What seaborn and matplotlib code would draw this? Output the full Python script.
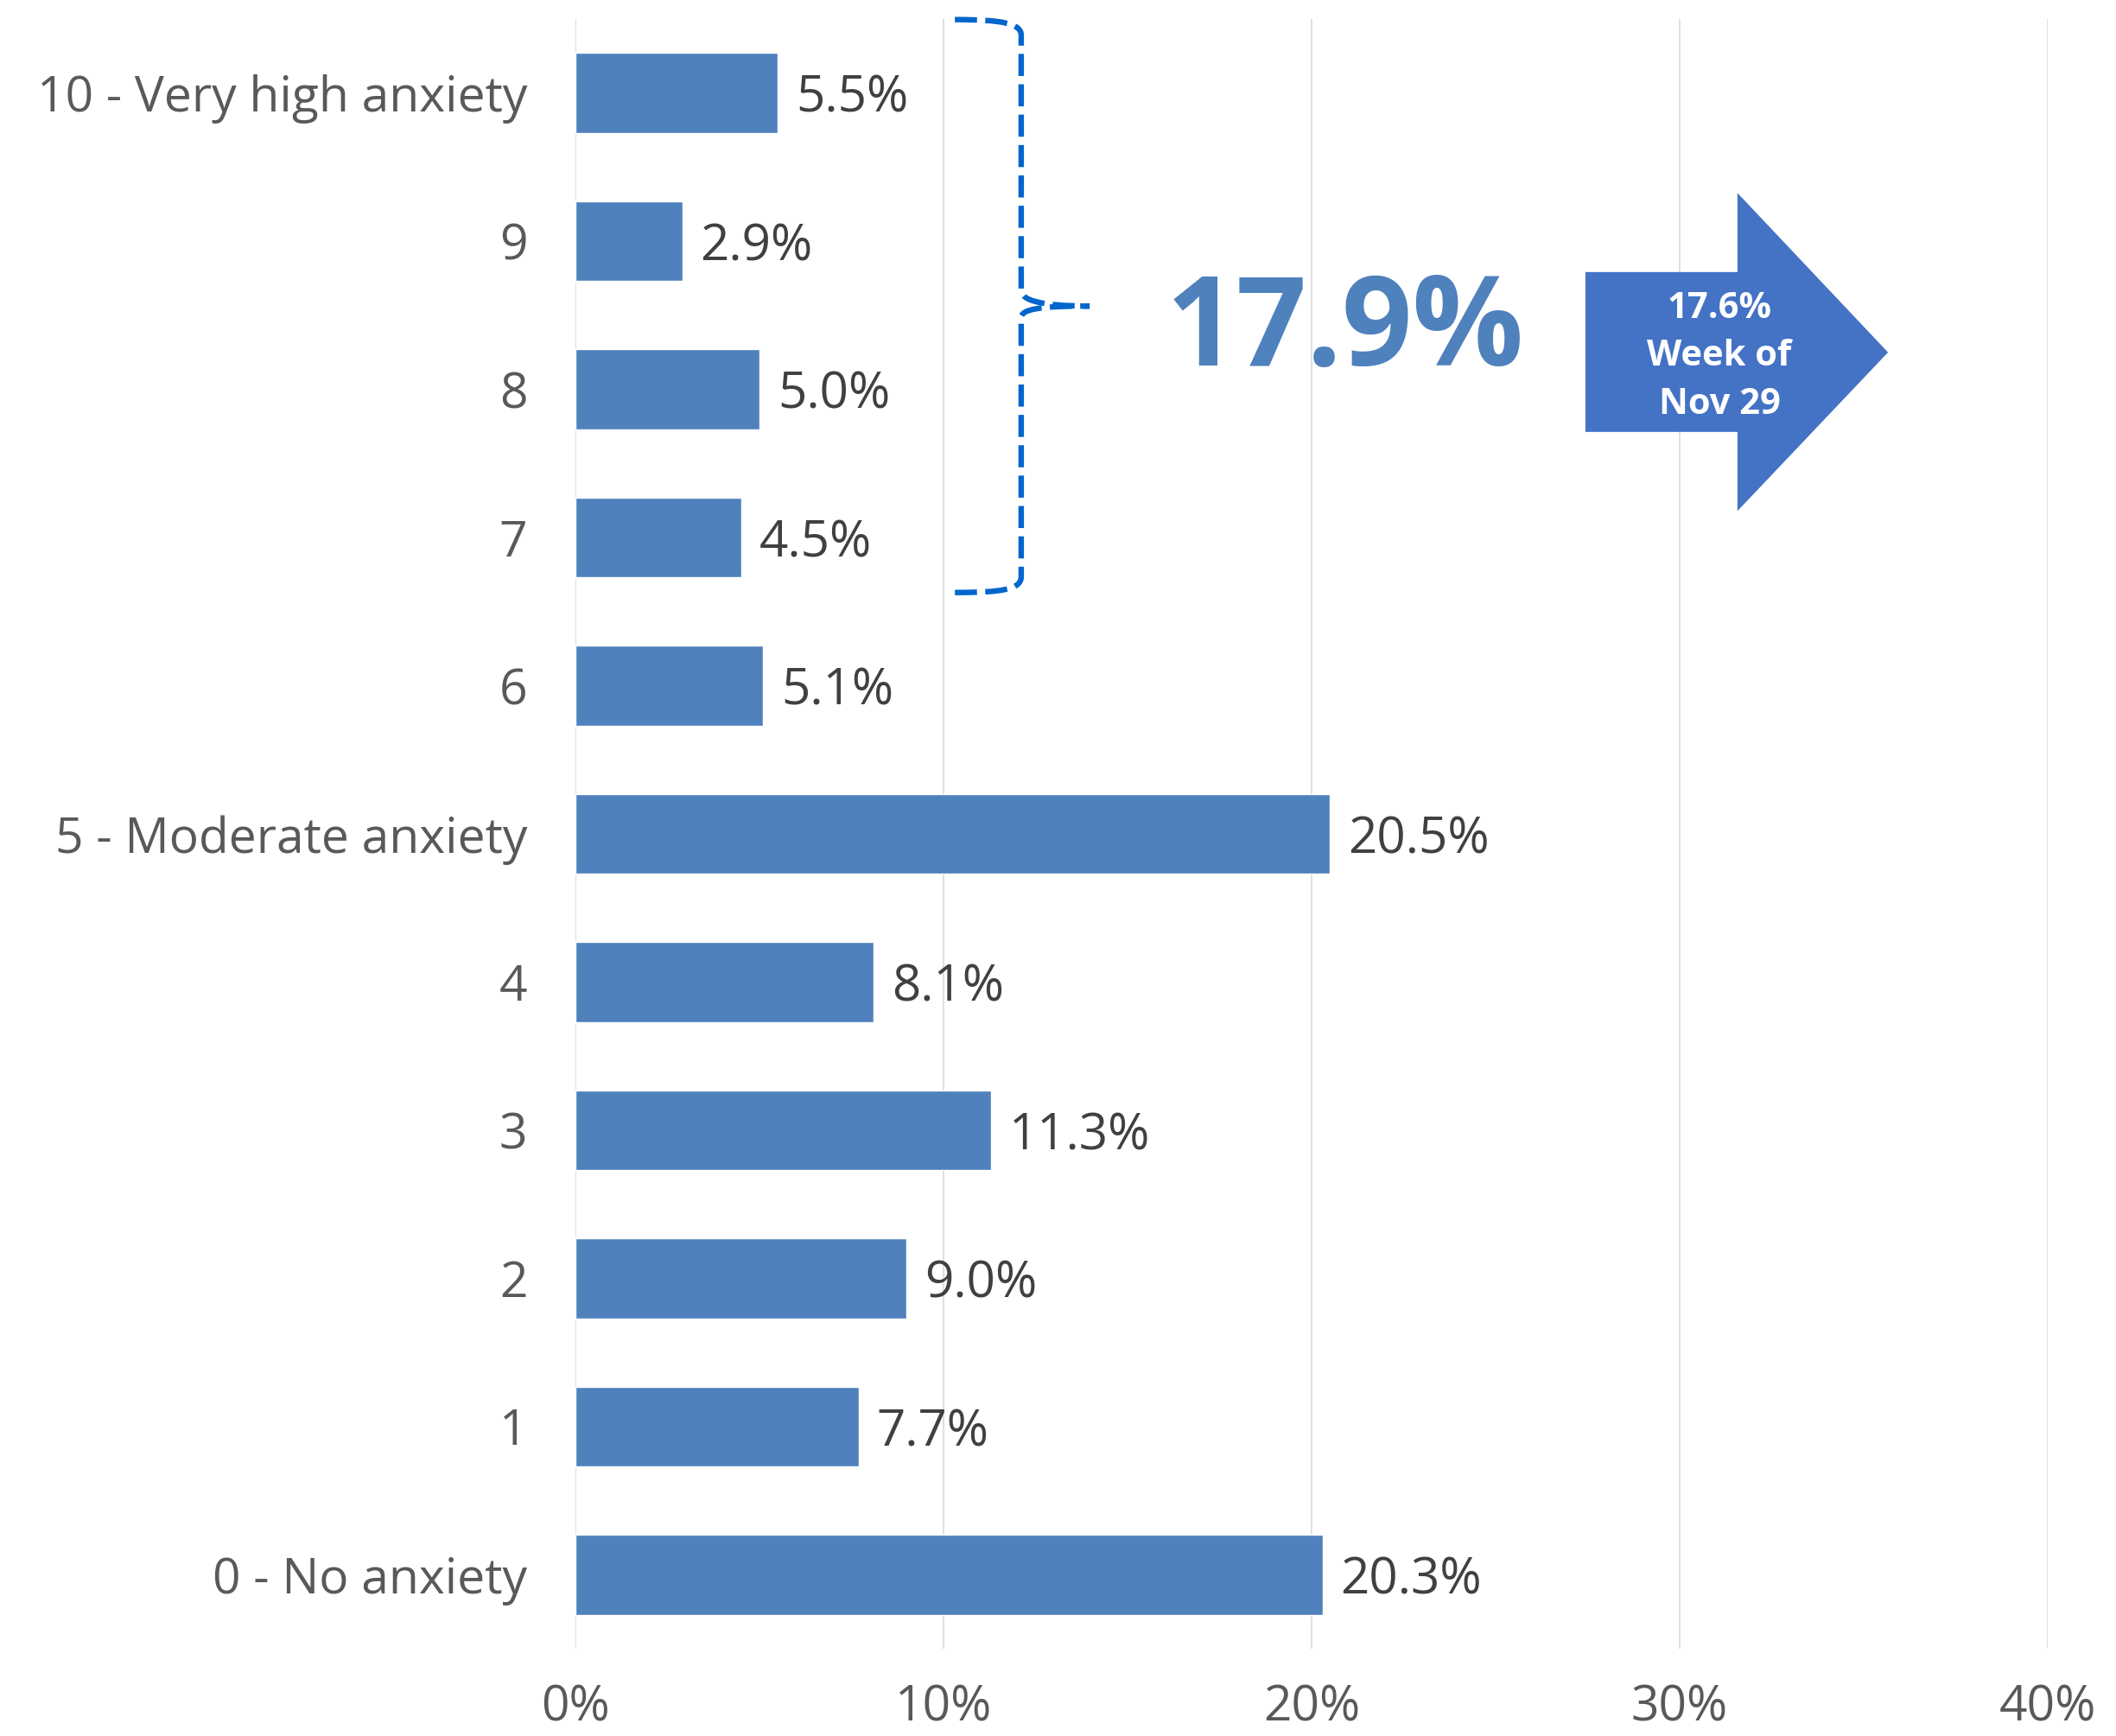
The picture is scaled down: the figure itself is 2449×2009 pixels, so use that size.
import matplotlib
matplotlib.use("Agg")
import matplotlib.pyplot as plt
from matplotlib.path import Path
from matplotlib.patches import PathPatch, Polygon
import seaborn as sns
import pandas as pd

# Anxiety rating distribution (share of respondents, %)
categories = ["10 - Very high anxiety", "9", "8", "7", "6", "5 - Moderate anxiety",
              "4", "3", "2", "1", "0 - No anxiety"]
shares = [5.5, 2.9, 5.0, 4.5, 5.1, 20.5, 8.1, 11.3, 9.0, 7.7, 20.3]
x_ticks = [0, 10, 20, 30, 40]
x_tick_labels = ["0%", "10%", "20%", "30%", "40%"]
high_group = ["10 - Very high anxiety", "9", "8", "7"]
previous_week_value = 17.6
previous_week_label = "Week of\nNov 29"

BAR = "#4F81BD"
ARROW = "#4472C4"
BRACE = "#0066CC"
TICK = "#595959"
VALUE = "#404040"
GRID = "#D9D9D9"

sns.set_theme(style="white")
plt.rcParams["font.family"] = ["Open Sans", "DejaVu Sans"]

df = pd.DataFrame({"rating": categories, "share": shares})

fig = plt.figure(figsize=(24.49, 20.09), dpi=100)
ax = fig.add_axes([666 / 2449, 1 - 1908 / 2009, (2370 - 666) / 2449, (1908 - 22) / 2009])

sns.barplot(data=df, y="rating", x="share", order=categories, color=BAR,
            width=0.54, saturation=1, orient="h", ax=ax)

ax.set_xlim(0, 40)
ax.set_ylim(len(categories) - 0.5, -0.5)
ax.set_xticks(x_ticks)
ax.set_xticklabels(x_tick_labels)
ax.set_xlabel("")
ax.set_ylabel("")
ax.tick_params(axis="x", length=0, pad=29, labelsize=41, labelcolor=TICK)
ax.tick_params(axis="y", length=0, pad=40, labelsize=41, labelcolor=TICK)
for lbl in ax.get_yticklabels():
    lbl.set_va("center_baseline")
ax.grid(axis="x", color=GRID, linewidth=1.2)
ax.set_axisbelow(True)
for s in ax.spines.values():
    s.set_visible(False)

labels = ax.bar_label(ax.containers[0], labels=[f"{v:.1f}%" for v in shares],
                      padding=15, fontsize=42, color=VALUE)
for t in labels:
    t.set_va("center_baseline")

# Curly bracket grouping the top four ratings
idx = [categories.index(c) for c in high_group]
y_top = min(idx) - 0.496
y_bot = max(idx) + 0.371
y_mid = (y_top + y_bot) / 2
x_left, x_v, x_tip = 10.31, 12.11, 13.97
upper = Path([(x_left, y_top), (11.6, y_top), (x_v, y_top + 0.026), (x_v, y_top + 0.106),
              (x_v, y_mid - 0.108),
              (x_v, y_mid - 0.04), (12.6, y_mid), (x_tip, y_mid)],
             [Path.MOVETO, Path.CURVE4, Path.CURVE4, Path.CURVE4, Path.LINETO,
              Path.CURVE4, Path.CURVE4, Path.CURVE4])
lower = Path([(x_left, y_bot), (11.6, y_bot), (x_v, y_bot - 0.021), (x_v, y_bot - 0.107),
              (x_v, y_mid + 0.08),
              (x_v, y_mid + 0.02), (12.6, y_mid), (x_tip, y_mid)],
             [Path.MOVETO, Path.CURVE4, Path.CURVE4, Path.CURVE4, Path.LINETO,
              Path.CURVE4, Path.CURVE4, Path.CURVE4])
for p in (upper, lower):
    ax.add_patch(PathPatch(p, fill=False, edgecolor=BRACE, linewidth=4.6,
                           linestyle=(0, (4, 1.5)), capstyle="butt", clip_on=False))

group_total = sum(shares[i] for i in idx)
ax.text(20.9, y_mid + 0.40, f"{group_total:.1f}%", ha="center", va="baseline",
        fontsize=103, fontweight="bold", color=BAR)

# Block arrow with previous week's figure
arrow_pts = [(27.44, 1.208), (31.57, 1.208), (31.57, 0.674), (35.66, 1.75),
             (31.57, 2.821), (31.57, 2.287), (27.44, 2.287)]
ax.add_patch(Polygon(arrow_pts, closed=True, facecolor=ARROW, edgecolor="none",
                     clip_on=False, zorder=3))
ax.text(31.08, 1.78, f"{previous_week_value:.1f}%\n{previous_week_label}", ha="center",
        va="center", fontsize=30, fontweight="bold", color="white", linespacing=1.47,
        zorder=4)

fig.savefig("out.png", dpi=100)
